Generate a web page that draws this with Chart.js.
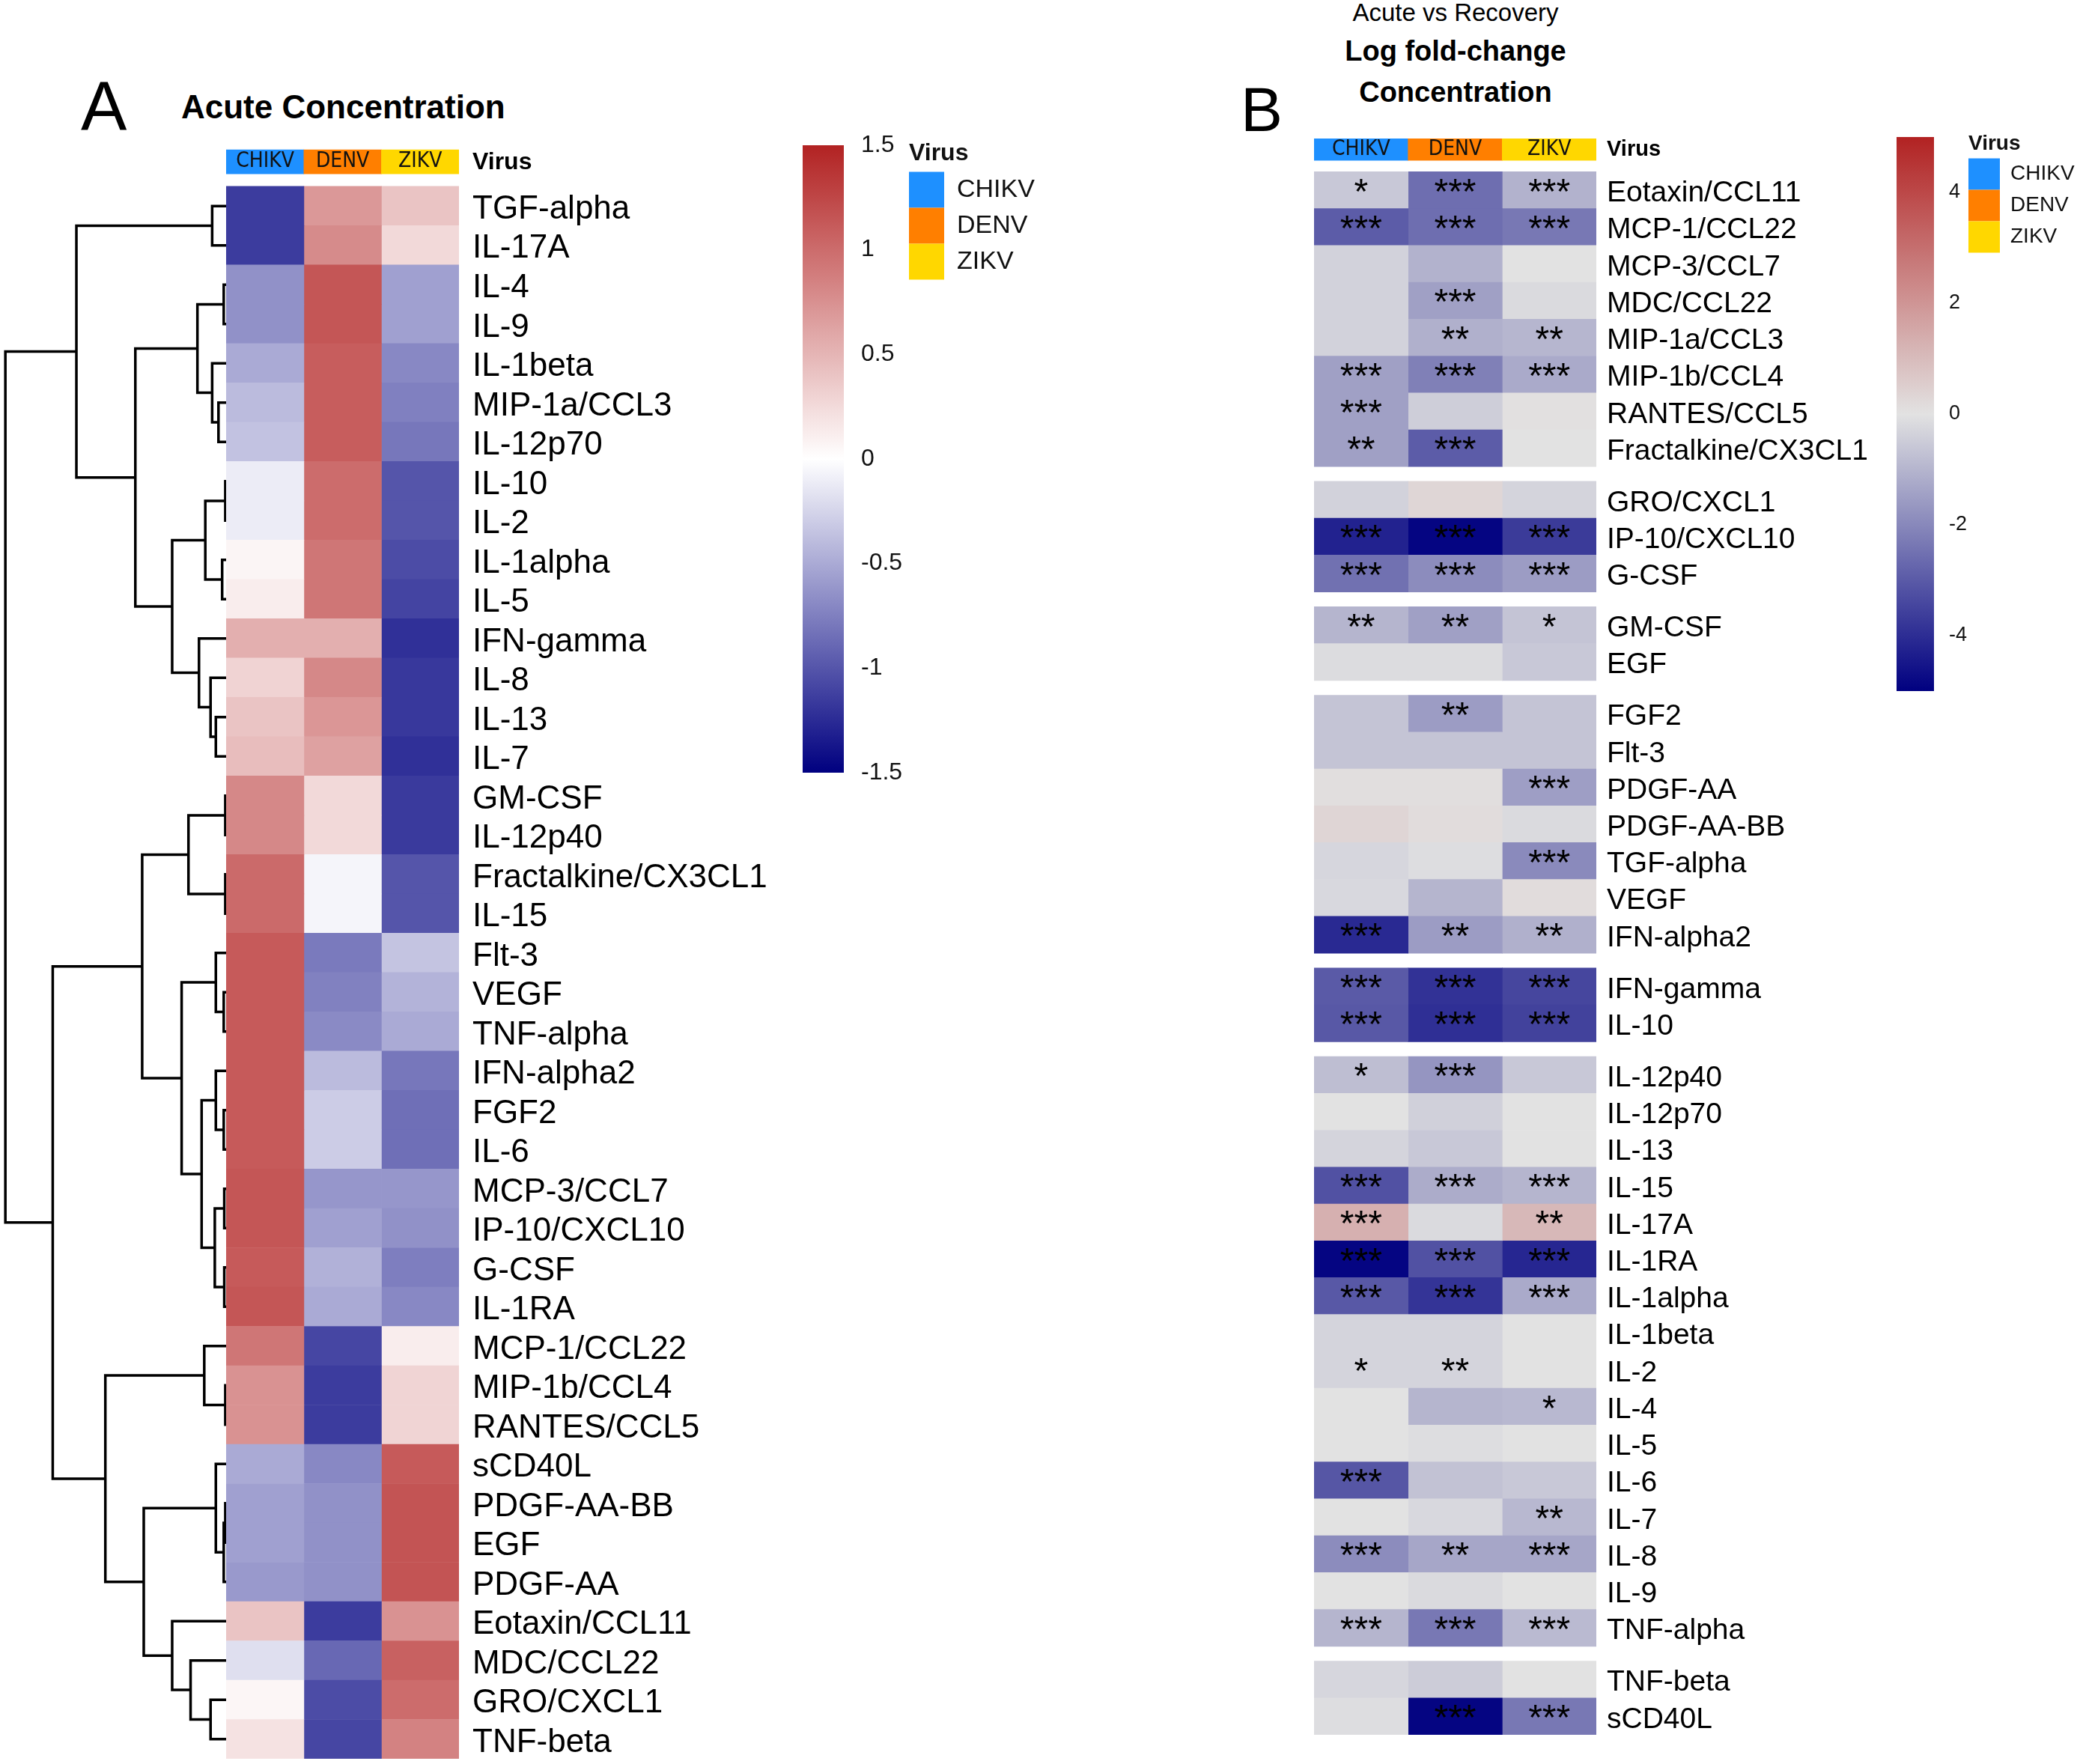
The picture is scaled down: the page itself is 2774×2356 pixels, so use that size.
<!DOCTYPE html>
<html>
<head>
<meta charset="utf-8">
<script src="https://cdn.jsdelivr.net/npm/chart.js@4.4.1/dist/chart.umd.min.js"></script>
<style>
  html, body { margin: 0; padding: 0; background: #fff; overflow: hidden; }
  body { width: 2774px; height: 2356px; position: relative; font-family: 'Liberation Sans', Arial, sans-serif; color: #000; }
  canvas { position: absolute; }
  .txt { position: absolute; white-space: nowrap; line-height: 1; }
  .ttl { position: absolute; left: 1744px; width: 400px; text-align: center; line-height: 1; white-space: nowrap; }
</style>
</head>
<body>
<div class="txt" style="left:108px;top:96px;font-size:92px;">A</div>
<div class="txt" style="left:242px;top:121px;font-size:44px;font-weight:bold;">Acute Concentration</div>
<div class="txt" style="left:1657px;top:104px;font-size:84px;">B</div>
<div class="ttl" style="top:0px;font-size:33px;">Acute vs Recovery</div>
<div class="ttl" style="top:49px;font-size:38px;font-weight:bold;">Log fold-change</div>
<div class="ttl" style="top:104px;font-size:38px;font-weight:bold;">Concentration</div>

<canvas id="heatA" width="1040" height="2176" style="left:0px;top:180px;"></canvas>
<canvas id="barA" width="200" height="950" style="left:1040px;top:150px;"></canvas>
<canvas id="legA" width="400" height="220" style="left:1214px;top:189px;"></canvas>
<canvas id="heatB" width="820" height="2186" style="left:1700px;top:170px;"></canvas>
<canvas id="barB" width="150" height="830" style="left:2500px;top:150px;"></canvas>
<canvas id="legB" width="360" height="200" style="left:2629px;top:178px;"></canvas>

<script>
// virus annotation
const viruses = ['CHIKV', 'DENV', 'ZIKV'];
const virusColors = ['#1E90FF', '#FF7F00', '#FFD700'];

// panel A: acute concentration (scaled), row order as clustered
const rowsA = ['TGF-alpha', 'IL-17A', 'IL-4', 'IL-9', 'IL-1beta', 'MIP-1a/CCL3', 'IL-12p70', 'IL-10', 'IL-2', 'IL-1alpha',
  'IL-5', 'IFN-gamma', 'IL-8', 'IL-13', 'IL-7', 'GM-CSF', 'IL-12p40', 'Fractalkine/CX3CL1', 'IL-15', 'Flt-3',
  'VEGF', 'TNF-alpha', 'IFN-alpha2', 'FGF2', 'IL-6', 'MCP-3/CCL7', 'IP-10/CXCL10', 'G-CSF', 'IL-1RA', 'MCP-1/CCL22',
  'MIP-1b/CCL4', 'RANTES/CCL5', 'sCD40L', 'PDGF-AA-BB', 'EGF', 'PDGF-AA', 'Eotaxin/CCL11', 'MDC/CCL22', 'GRO/CXCL1', 'TNF-beta'];
const chikvA = [-1.15, -1.15, -0.65, -0.65, -0.5, -0.4, -0.36, -0.11, -0.11, 0.07,
  0.12, 0.54, 0.3, 0.4, 0.45, 0.81, 0.81, 1.01, 1.01, 1.12,
  1.12, 1.12, 1.12, 1.12, 1.12, 1.15, 1.15, 1.12, 1.15, 0.93,
  0.74, 0.74, -0.5, -0.56, -0.56, -0.6, 0.4, -0.19, 0.06, 0.2];
const denvA = [0.7, 0.79, 1.15, 1.15, 1.1, 1.1, 1.1, 1.0, 1.0, 0.93,
  0.93, 0.54, 0.81, 0.71, 0.64, 0.26, 0.26, -0.06, -0.06, -0.78,
  -0.74, -0.69, -0.4, -0.3, -0.3, -0.62, -0.56, -0.46, -0.5, -1.09,
  -1.15, -1.15, -0.7, -0.65, -0.65, -0.65, -1.15, -0.89, -1.05, -1.09];
const zikvA = [0.4, 0.26, -0.56, -0.56, -0.7, -0.75, -0.8, -1.0, -1.0, -1.05,
  -1.1, -1.22, -1.17, -1.17, -1.22, -1.16, -1.16, -1.0, -1.0, -0.35,
  -0.45, -0.5, -0.8, -0.85, -0.85, -0.62, -0.65, -0.76, -0.7, 0.12,
  0.29, 0.29, 1.12, 1.16, 1.16, 1.16, 0.74, 1.07, 1.0, 0.85];
const ticksA = [-1.5, -1, -0.5, 0, 0.5, 1, 1.5];

// row dendrogram: [left child, right child, height]; leaves 0..39, merge k gets id 40+k
const mergesA = [
  [0, 1, 27], [2, 3, 5], [5, 6, 15], [4, 42, 27], [41, 43, 55],
  [7, 8, 2], [9, 10, 8], [45, 46, 40], [13, 14, 20], [12, 48, 30],
  [11, 49, 52], [47, 50, 103], [44, 51, 173], [40, 52, 285], [15, 16, 2],
  [17, 18, 2], [54, 55, 72], [20, 21, 5], [19, 57, 20], [23, 24, 5],
  [22, 59, 20], [25, 26, 4], [27, 28, 4], [61, 62, 22], [60, 63, 47],
  [58, 64, 85], [56, 65, 160], [30, 31, 2], [29, 67, 42], [33, 34, 2],
  [69, 35, 5], [32, 70, 20], [38, 39, 30], [37, 72, 68], [36, 73, 103],
  [71, 74, 157], [68, 75, 230], [66, 76, 330], [53, 77, 420]
];

// panel B: log fold-change acute vs recovery, grouped rows
const rowsB = ['Eotaxin/CCL11', 'MCP-1/CCL22', 'MCP-3/CCL7', 'MDC/CCL22', 'MIP-1a/CCL3', 'MIP-1b/CCL4', 'RANTES/CCL5', 'Fractalkine/CX3CL1',
  'GRO/CXCL1', 'IP-10/CXCL10', 'G-CSF',
  'GM-CSF', 'EGF',
  'FGF2', 'Flt-3', 'PDGF-AA', 'PDGF-AA-BB', 'TGF-alpha', 'VEGF', 'IFN-alpha2',
  'IFN-gamma', 'IL-10',
  'IL-12p40', 'IL-12p70', 'IL-13', 'IL-15', 'IL-17A', 'IL-1RA', 'IL-1alpha', 'IL-1beta', 'IL-2', 'IL-4', 'IL-5', 'IL-6', 'IL-7', 'IL-8', 'IL-9', 'TNF-alpha',
  'TNF-beta', 'sCD40L'];
const groupB = [0, 0, 0, 0, 0, 0, 0, 0, 1, 1, 1, 2, 2, 3, 3, 3, 3, 3, 3, 3, 4, 4,
  5, 5, 5, 5, 5, 5, 5, 5, 5, 5, 5, 5, 5, 5, 5, 5, 6, 6];
const chikvB = [-0.58, -2.96, -0.35, -0.35, -0.35, -1.46, -1.46, -1.46,
  -0.35, -4.25, -2.5,
  -1.0, -0.13,
  -0.66, -0.66, 0.1, 0.35, -0.27, -0.22, -4.1,
  -3.0, -3.05,
  -0.8, 0, -0.3, -3.2, 1.3, -4.9, -3.05, -0.3, -0.3, 0, 0, -3.1, 0, -1.9, 0, -1.0,
  -0.27, -0.1];
const denvB = [-2.57, -2.57, -1.06, -1.46, -1.1, -2.17, -0.44, -2.96,
  0.3, -4.9, -1.9,
  -1.46, -0.13,
  -1.55, -0.66, 0.1, 0.15, -0.1, -1.0, -1.55,
  -3.9, -3.95,
  -1.7, -0.4, -0.58, -1.2, -0.18, -3.2, -3.85, -0.3, -0.3, -1.0, -0.1, -0.7, -0.22, -1.33, -0.18, -2.35,
  -0.49, -4.9];
const zikvB = [-1.06, -2.35, 0, -0.18, -0.97, -1.24, 0.05, 0,
  -0.3, -3.7, -1.55,
  -0.66, -0.58,
  -0.66, -0.66, -1.5, -0.18, -1.95, 0.15, -1.1,
  -3.45, -3.55,
  -0.58, 0, 0, -1.0, 1.1, -4.15, -1.24, 0, 0, -0.93, 0, -0.58, -0.93, -1.33, 0, -0.88,
  0, -2.35];
const starsChikvB = ['*', '***', '', '', '', '***', '***', '**',
  '', '***', '***',
  '**', '',
  '', '', '', '', '', '', '***',
  '***', '***',
  '*', '', '', '***', '***', '***', '***', '', '*', '', '', '***', '', '***', '', '***',
  '', ''];
const starsDenvB = ['***', '***', '', '***', '**', '***', '', '***',
  '', '***', '***',
  '**', '',
  '**', '', '', '', '', '', '**',
  '***', '***',
  '***', '', '', '***', '', '***', '***', '', '**', '', '', '', '', '**', '', '***',
  '', '***'];
const starsZikvB = ['***', '***', '', '', '**', '***', '', '',
  '', '***', '***',
  '*', '',
  '', '', '***', '', '***', '', '**',
  '***', '***',
  '', '', '', '***', '**', '***', '***', '', '', '*', '', '', '**', '***', '', '***',
  '', '***'];
const ticksB = [-4, -2, 0, 2, 4];

Chart.defaults.font.family = "'Liberation Sans', Arial, sans-serif";
Chart.defaults.color = '#111';

function mix(a, b, t) {
  return a.map((v, i) => Math.round(v + (b[i] - v) * t));
}
function ramp(lo, mid, hi, limit) {
  return v => {
    const t = Math.max(-1, Math.min(1, v / limit));
    const c = t < 0 ? mix(mid, lo, -t) : mix(mid, hi, t);
    return 'rgb(' + c.join(',') + ')';
  };
}
const colorA = ramp([0, 0, 128], [255, 255, 255], [178, 34, 34], 1.5);
const colorB = ramp([0, 0, 128], [226, 226, 226], [178, 34, 34], 5);

const narrowFont = "'Liberation Sans Narrow', 'DejaVu Sans Condensed', 'Liberation Sans', sans-serif";
// small downward nudge so the label text sits optically centred on its row
const labelNudge = 0.09;

function heatDatasets(rows, cols, colorFn, posFn) {
  return cols.map((vals, c) => ({
    type: 'bar',
    indexAxis: 'y',
    grouped: false,
    data: rows.map((r, i) => ({ x: [c, c + 1], y: posFn(i) + 0.5 })),
    backgroundColor: vals.map(colorFn),
    borderWidth: 0,
    barPercentage: 1,
    categoryPercentage: 1
  }));
}

function virusBar(pos, thickness) {
  return {
    type: 'bar',
    indexAxis: 'y',
    grouped: false,
    data: viruses.map((v, c) => ({ x: [c, c + 1], y: pos })),
    backgroundColor: virusColors,
    borderWidth: 0,
    barThickness: thickness
  };
}

function dendroPoints(merges, nLeaves, span) {
  const pos = [], hgt = [];
  for (let i = 0; i < nLeaves; i++) { pos[i] = i + 0.5; hgt[i] = 0; }
  const maxH = Math.max(...merges.map(m => m[2]));
  const X = h => -h / maxH * span;
  const pts = [];
  merges.forEach(([a, b, h], k) => {
    pts.push({ x: X(hgt[a]), y: pos[a] }, { x: X(h), y: pos[a] },
             { x: X(h), y: pos[b] }, { x: X(hgt[b]), y: pos[b] }, { x: null, y: null });
    pos[nLeaves + k] = (pos[a] + pos[b]) / 2;
    hgt[nLeaves + k] = h;
  });
  return pts;
}

// text inside cells: virus names on the annotation bar, stars on panel B
function cellTextPlugin(items) {
  return {
    id: 'cellText',
    afterDatasetsDraw(chart) {
      const { ctx, scales: { x, y } } = chart;
      ctx.save();
      ctx.textAlign = 'center';
      items().forEach(it => {
        if (!it.text) return;
        ctx.font = it.font;
        ctx.fillStyle = it.color || '#000';
        ctx.textBaseline = it.baseline || 'middle';
        const py = y.getPixelForValue(it.y);
        const rowPx = Math.abs(y.getPixelForValue(1) - y.getPixelForValue(0));
        ctx.fillText(it.text, x.getPixelForValue(it.x), py + (it.dy || 0) * rowPx);
      });
      ctx.restore();
    }
  };
}

// ---------- panel A heatmap ----------
const barPosA = -0.625;
new Chart(document.getElementById('heatA'), {
  type: 'bar',
  data: {
    datasets: [
      ...heatDatasets(rowsA, [chikvA, denvA, zikvA], colorA, i => i),
      virusBar(barPosA, 32),
      {
        type: 'line',
        data: dendroPoints(mergesA, rowsA.length, 2.85),
        borderColor: '#000',
        borderWidth: 3.5,
        borderJoinStyle: 'miter',
        pointRadius: 0,
        spanGaps: false,
        fill: false
      }
    ]
  },
  options: {
    responsive: false,
    animation: false,
    devicePixelRatio: 1,
    events: [],
    layout: { padding: { left: 2, right: 0, top: 19, bottom: 7 } },
    plugins: { legend: { display: false }, tooltip: { enabled: false } },
    scales: {
      x: { type: 'linear', display: false, offset: false, min: -2.9, max: 3 },
      y: {
        type: 'linear', position: 'right', reverse: true, offset: false, min: -0.95, max: 40,
        grid: { display: false, drawTicks: false, offset: false },
        border: { display: false },
        afterBuildTicks: s => { s.ticks = [barPosA + 0.02, ...rowsA.map((r, i) => i + 0.5 + labelNudge)].map(value => ({ value })); },
        afterFit: s => { s.width = 427; s.paddingTop = 0; s.paddingBottom = 0; },
        ticks: {
          autoSkip: false,
          padding: 18,
          color: '#000',
          font: c => c.index === 0 ? { size: 32, weight: 'bold' } : { size: 44 },
          callback: (v, i) => i === 0 ? 'Virus' : rowsA[i - 1]
        }
      }
    }
  },
  plugins: [cellTextPlugin(() => viruses.map((v, c) => ({
    text: v, x: c + 0.5, y: barPosA, font: '28px ' + narrowFont, color: '#111'
  })))]
});

// ---------- panel B heatmap ----------
const barPosB = -0.6;
const gapB = 0.4;
const posB = i => i + gapB * groupB[i];
const starCols = [starsChikvB, starsDenvB, starsZikvB];
new Chart(document.getElementById('heatB'), {
  type: 'bar',
  data: {
    datasets: [
      ...heatDatasets(rowsB, [chikvB, denvB, zikvB], colorB, posB),
      virusBar(barPosB, 29)
    ]
  },
  options: {
    responsive: false,
    animation: false,
    devicePixelRatio: 1,
    events: [],
    layout: { padding: { left: 55, right: 0, top: 15, bottom: 39 } },
    plugins: { legend: { display: false }, tooltip: { enabled: false } },
    scales: {
      x: { type: 'linear', display: false, offset: false, min: 0, max: 3 },
      y: {
        type: 'linear', position: 'right', reverse: true, offset: false, min: -0.9, max: 40 + gapB * 6,
        grid: { display: false, drawTicks: false, offset: false },
        border: { display: false },
        afterBuildTicks: s => { s.ticks = [barPosB, ...rowsB.map((r, i) => posB(i) + 0.5 + labelNudge)].map(value => ({ value })); },
        afterFit: s => { s.width = 388; s.paddingTop = 0; s.paddingBottom = 0; },
        ticks: {
          autoSkip: false,
          padding: 14,
          color: '#000',
          font: c => c.index === 0 ? { size: 29, weight: 'bold' } : { size: 39 },
          callback: (v, i) => i === 0 ? 'Virus' : rowsB[i - 1]
        }
      }
    }
  },
  plugins: [cellTextPlugin(() => [
    ...viruses.map((v, c) => ({ text: v, x: c + 0.5, y: barPosB, font: '28px ' + narrowFont, color: '#111' })),
    ...starCols.flatMap((col, c) => col.map((s, i) => ({
      text: s, x: c + 0.5, y: posB(i) + 0.5, dy: 0.36, baseline: 'alphabetic',
      font: "48px 'Liberation Sans', Arial, sans-serif", color: '#000'
    })))
  ])]
});

// ---------- colour keys ----------
function gradientFor(chart, limit, colorFn) {
  const { chartArea, scales } = chart;
  if (!chartArea) return null;
  const y = scales.y;
  const g = chart.ctx.createLinearGradient(0, y.getPixelForValue(limit), 0, y.getPixelForValue(-limit));
  for (let k = 0; k <= 30; k++) g.addColorStop(k / 30, colorFn(limit - 2 * limit * k / 30));
  return g;
}

function colorKey(id, limit, colorFn, ticks, pad, axisWidth, tickPad, fontSize) {
  new Chart(document.getElementById(id), {
    type: 'bar',
    data: {
      labels: [''],
      datasets: [{
        data: [[-limit, limit]],
        backgroundColor: c => gradientFor(c.chart, limit, colorFn),
        borderWidth: 0,
        barPercentage: 1,
        categoryPercentage: 1
      }]
    },
    options: {
      responsive: false,
      animation: false,
      devicePixelRatio: 1,
      events: [],
      layout: { padding: pad },
      plugins: { legend: { display: false }, tooltip: { enabled: false } },
      scales: {
        x: { display: false },
        y: {
          position: 'right', min: -limit, max: limit,
          grid: { display: false, drawTicks: false },
          border: { display: false },
          afterBuildTicks: s => { s.ticks = ticks.map(value => ({ value })); },
          afterFit: s => { s.width = axisWidth; s.paddingTop = 0; s.paddingBottom = 0; },
          ticks: { padding: tickPad, color: '#111', font: { size: fontSize }, callback: v => String(v) }
        }
      }
    }
  });
}
colorKey('barA', 1.5, colorA, ticksA, { left: 32, right: 0, top: 44, bottom: 68 }, 113, 23, 32);
colorKey('barB', 5, colorB, ticksB, { left: 33, right: 0, top: 33, bottom: 57 }, 67, 20, 27);

// ---------- virus legends ----------
function virusLegend(id, box, fontSize, titleSize, titleGap) {
  new Chart(document.getElementById(id), {
    type: 'bar',
    data: { labels: [], datasets: [] },
    options: {
      responsive: false,
      animation: false,
      devicePixelRatio: 1,
      events: [],
      scales: { x: { display: false }, y: { display: false } },
      plugins: {
        tooltip: { enabled: false },
        legend: {
          position: 'left',
          align: 'start',
          title: {
            display: true, text: 'Virus', position: 'start', color: '#111',
            font: { size: titleSize, weight: 'bold' }, padding: { top: 0, bottom: titleGap }
          },
          labels: {
            boxWidth: box[0], boxHeight: box[1], padding: 0, color: '#111',
            font: { size: fontSize },
            generateLabels: () => viruses.map((v, i) => ({
              text: v, fillStyle: virusColors[i], strokeStyle: virusColors[i],
              lineWidth: 0, hidden: false, datasetIndex: i
            }))
          }
        }
      }
    }
  });
}
virusLegend('legA', [47, 48], 34, 32, 2);
virusLegend('legB', [42, 42], 28, 28, 0);
</script>
</body>
</html>
